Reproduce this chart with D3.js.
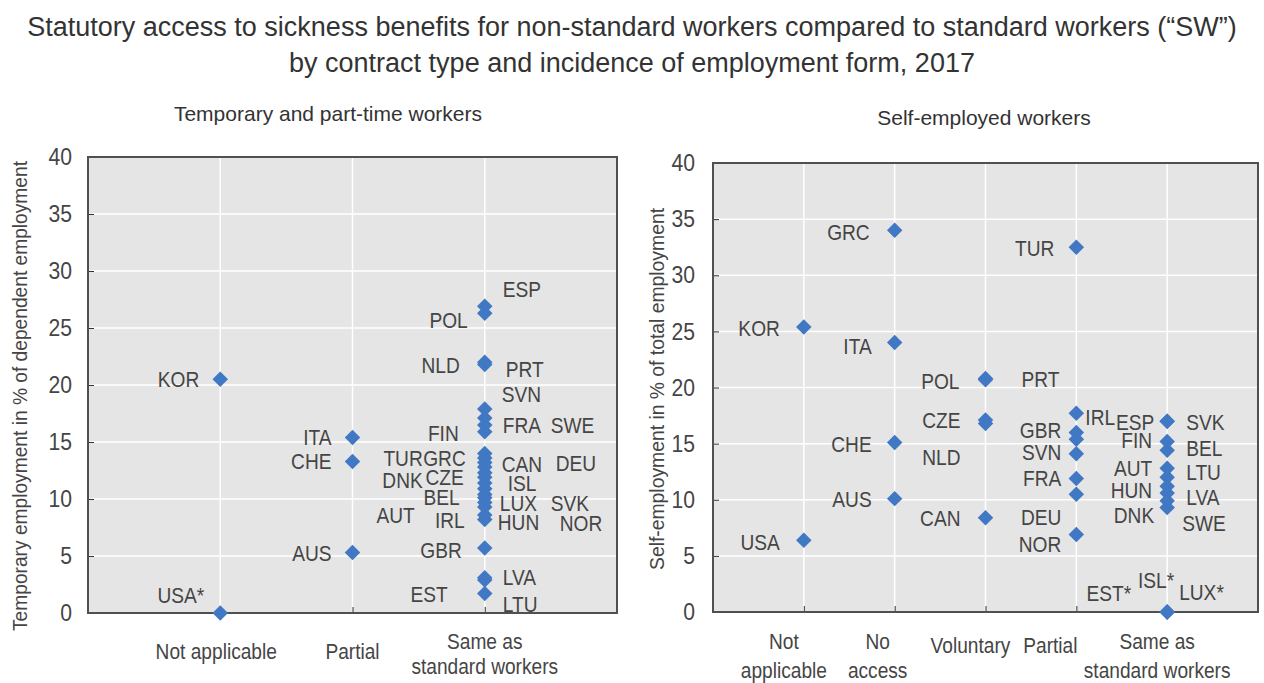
<!DOCTYPE html>
<html>
<head>
<meta charset="utf-8">
<script src="https://cdn.jsdelivr.net/npm/d3@7"></script>
<style>
  body { margin: 0; background: #ffffff; }
  svg { display: block; }
</style>
</head>
<body>
<svg id="chart" width="1264" height="683"></svg>
<script>
//------------------------------------------------------------------------------
// Data
//------------------------------------------------------------------------------

var yTicks = [0, 5, 10, 15, 20, 25, 30, 35, 40];

// Temporary and part-time workers
var tpCategories = ["Not applicable", "Partial", "Same as\nstandard workers"];
var tpCountries = ["KOR", "USA*", "ITA", "CHE", "AUS",
  "ESP", "POL", "NLD", "PRT", "SVN", "FRA", "SWE", "FIN", "TUR", "GRC", "CAN", "DEU",
  "DNK", "CZE", "ISL", "BEL", "LUX", "SVK", "AUT", "IRL", "HUN", "NOR", "GBR", "EST", "LVA", "LTU"];
var tpGroup = [0, 0, 1, 1, 1,
  2, 2, 2, 2, 2, 2, 2, 2, 2, 2, 2, 2,
  2, 2, 2, 2, 2, 2, 2, 2, 2, 2, 2, 2, 2, 2];
var tpValues = [20.5, 0, 15.4, 13.3, 5.3,
  26.9, 26.3, 22.0, 21.8, 17.9, 17.1, 16.5, 15.9, 14.0, 13.6, 13.2, 12.8,
  12.3, 11.9, 11.4, 10.9, 10.4, 10.1, 9.7, 9.3, 8.6, 8.2, 5.7, 3.1, 2.9, 1.7];

// Self-employed workers
var seCategories = ["Not\napplicable", "No\naccess", "Voluntary", "Partial", "Same as\nstandard workers"];
var seCountries = ["KOR", "USA", "GRC", "ITA", "CHE", "AUS",
  "POL", "PRT", "CZE", "NLD", "CAN",
  "TUR", "IRL", "GBR", "", "SVN", "FRA", "DEU", "NOR",
  "ESP", "SVK", "FIN", "BEL", "AUT", "LTU", "HUN", "LVA", "DNK", "SWE", "EST*", "ISL*", "LUX*"];
var seGroup = [0, 0, 1, 1, 1, 1,
  2, 2, 2, 2, 2,
  3, 3, 3, 3, 3, 3, 3, 3,
  4, 4, 4, 4, 4, 4, 4, 4, 4, 4, 4, 4, 4];
var seValues = [25.4, 6.4, 34.0, 24.0, 15.1, 10.1,
  20.8, 20.7, 17.1, 16.8, 8.4,
  32.5, 17.7, 16.0, 15.4, 14.1, 11.9, 10.5, 6.9,
  17.0, 17.0, 15.2, 14.4, 12.8, 12.0, 11.2, 10.6, 9.9, 9.3, 0, 0, 0];

//------------------------------------------------------------------------------
// Label placement (offset from the marker in px, text anchor)
//------------------------------------------------------------------------------

var tpLabelPos = {
  "KOR": [-21, 0, "end"], "USA*": [-16, -18, "end"], "ITA": [-21, 0, "end"],
  "CHE": [-21, 0, "end"], "AUS": [-21, 0, "end"],
  "ESP": [18, -17, "start"], "POL": [-17, 7, "end"], "NLD": [-25, 3, "end"],
  "PRT": [21, 5, "start"], "SVN": [17, -15, "start"], "FRA": [18, 7, "start"],
  "SWE": [66, 0, "start"], "FIN": [-26, 1, "end"], "TUR": [-62, 5, "end"],
  "GRC": [-19, 0, "end"], "CAN": [17, 1, "start"], "DEU": [71, -4, "start"],
  "DNK": [-62, 7, "end"], "CZE": [-21, 0, "end"], "ISL": [23, 0, "start"],
  "BEL": [-25, 8, "end"], "LUX": [15, 9, "start"], "SVK": [66, 5, "start"],
  "AUT": [-70, 13, "end"], "IRL": [-20, 13, "end"], "HUN": [13, 7, "start"],
  "NOR": [75, 3, "start"], "GBR": [-23, 2, "end"], "EST": [-37, 16, "end"],
  "LVA": [18, -3, "start"], "LTU": [18, 10, "start"]
};

var seLabelPos = {
  "KOR": [-24, 1, "end"], "USA": [-24, 2, "end"], "GRC": [-25, 2, "end"],
  "ITA": [-23, 3, "end"], "CHE": [-23, 1, "end"], "AUS": [-23, 0, "end"],
  "POL": [-26, 2, "end"], "PRT": [36, -1, "start"], "CZE": [-25, 0, "end"],
  "NLD": [-25, 34, "end"], "CAN": [-25, 0, "end"],
  "TUR": [-22, 1, "end"], "IRL": [9, 4, "start"], "GBR": [-15, -2, "end"],
  "SVN": [-15, -2, "end"], "FRA": [-15, 0, "end"], "DEU": [-15, 23, "end"],
  "NOR": [-15, 9, "end"],
  "ESP": [-13, 1, "end"], "SVK": [19, 1, "start"], "FIN": [-15, -1, "end"],
  "BEL": [19, -2, "start"], "AUT": [-15, 0, "end"], "LTU": [19, -5, "start"],
  "HUN": [-15, 4, "end"], "LVA": [19, 4, "start"], "DNK": [-13, 14, "end"],
  "SWE": [15, 15, "start"], "EST*": [-36, -19, "end"], "ISL*": [7, -32, "end"],
  "LUX*": [12, -20, "start"]
};

//------------------------------------------------------------------------------
// Styles
//------------------------------------------------------------------------------

var sans = "'Liberation Sans', Arial, sans-serif";
var textColor = "#454545";
var markerColor = "#4178c4";
var narrowScale = 0.87;   // no narrow face installed, squeeze glyphs instead

var svg = d3.select("#chart");

// place a text with a horizontal squeeze around its anchor point
function squeeze(sel, x, y, k) {
  sel.attr("transform", "translate(" + x + "," + y + ") scale(" + (k || narrowScale) + ",1)");
}

svg.append("text")
  .attr("x", 632).attr("y", 27)
  .attr("text-anchor", "middle").attr("dominant-baseline", "central")
  .attr("font-family", sans).attr("font-size", "27px").attr("fill", "#333")
  .text("Statutory access to sickness benefits for non-standard workers compared to standard workers (\u201cSW\u201d)");

svg.append("text")
  .attr("x", 632).attr("y", 63)
  .attr("text-anchor", "middle").attr("dominant-baseline", "central")
  .attr("font-family", sans).attr("font-size", "27px").attr("fill", "#333")
  .text("by contract type and incidence of employment form, 2017");

//------------------------------------------------------------------------------
// Panel
//------------------------------------------------------------------------------

function drawPanel(p) {
  var g = svg.append("g");

  var x = d3.scalePoint()
    .domain(d3.range(p.categories.length))
    .range([p.left, p.right])
    .padding(1);

  var y = d3.scaleLinear()
    .domain([0, 40])
    .range([p.bottom, p.top]);

  // plot background
  g.append("rect")
    .attr("x", p.left).attr("y", p.top)
    .attr("width", p.right - p.left).attr("height", p.bottom - p.top)
    .attr("fill", "#e5e5e5");

  // grid
  g.selectAll(".hgrid")
    .data(yTicks.slice(1, -1))
    .enter().append("line")
    .attr("x1", p.left).attr("x2", p.right)
    .attr("y1", function(d) { return y(d); })
    .attr("y2", function(d) { return y(d); })
    .attr("stroke", "#ffffff").attr("stroke-width", 1.5);

  g.selectAll(".vgrid")
    .data(x.domain())
    .enter().append("line")
    .attr("x1", function(d) { return x(d); })
    .attr("x2", function(d) { return x(d); })
    .attr("y1", p.top).attr("y2", p.bottom)
    .attr("stroke", "#ffffff").attr("stroke-width", 1.5);

  // axes with inward ticks
  var yAxis = g.append("g")
    .attr("transform", "translate(" + p.left + ",0)")
    .call(d3.axisLeft(y).tickValues(yTicks).tickSizeInner(-6).tickSizeOuter(0).tickPadding(p.tickPad));
  yAxis.select(".domain").remove();
  yAxis.selectAll("line").attr("stroke", "#333");
  yAxis.selectAll("text")
    .attr("font-family", sans).attr("font-size", "24px").attr("fill", textColor)
    .each(function() {
      var t = d3.select(this);
      squeeze(t, t.attr("x"), 0, 0.88);
      t.attr("x", 0);
    });

  var xAxis = g.append("g")
    .attr("transform", "translate(0," + p.bottom + ")")
    .call(d3.axisBottom(x).tickSizeInner(-6).tickSizeOuter(0).tickFormat(""));
  xAxis.select(".domain").remove();
  xAxis.selectAll("line").attr("stroke", "#333");

  // frame
  g.append("rect")
    .attr("x", p.left).attr("y", p.top)
    .attr("width", p.right - p.left).attr("height", p.bottom - p.top)
    .attr("fill", "none").attr("stroke", "#505050").attr("stroke-width", 2);

  // category labels
  p.categories.forEach(function(c, i) {
    var lines = c.split("\n");
    lines.forEach(function(line, j) {
      var t = g.append("text")
        .attr("text-anchor", "middle").attr("dominant-baseline", "central")
        .attr("font-family", sans).attr("font-size", "22px").attr("fill", textColor)
        .text(line);
      squeeze(t, x(i) + p.catShift[i], lines.length == 1 ? p.catY1 : p.catY2[j]);
    });
  });

  // markers
  var rows = p.values.map(function(v, i) {
    return { name: p.countries[i], group: p.groups[i], value: v };
  });

  g.selectAll(".pt")
    .data(rows)
    .enter().append("path")
    .attr("d", d3.symbol(d3.symbolSquare, 120))
    .attr("transform", function(d) { return "translate(" + x(d.group) + "," + y(d.value) + ") rotate(45)"; })
    .attr("fill", markerColor);

  // country labels
  g.selectAll(".lbl")
    .data(rows.filter(function(d) { return d.name !== ""; }))
    .enter().append("text")
    .attr("text-anchor", function(d) { return p.labelPos[d.name][2]; })
    .attr("dominant-baseline", "central")
    .attr("font-family", sans).attr("font-size", "22px").attr("fill", textColor)
    .text(function(d) { return d.name; })
    .each(function(d) {
      var pos = p.labelPos[d.name];
      squeeze(d3.select(this), x(d.group) + pos[0], y(d.value) + pos[1]);
    });

  // panel title
  g.append("text")
    .attr("x", p.titleX).attr("y", p.titleY)
    .attr("text-anchor", "middle").attr("dominant-baseline", "central")
    .attr("font-family", sans).attr("font-size", "21px").attr("fill", "#333")
    .text(p.title);

  // y axis title
  g.append("text")
    .attr("transform", "translate(" + p.yTitleX + "," + p.yTitleY + ") rotate(-90)")
    .attr("text-anchor", "middle").attr("dominant-baseline", "central")
    .attr("font-family", sans).attr("font-size", "20px").attr("fill", textColor)
    .attr("textLength", p.yTitleLen).attr("lengthAdjust", "spacingAndGlyphs")
    .text(p.yTitle);
}

drawPanel({
  left: 88, right: 617, top: 157, bottom: 613,
  categories: tpCategories, countries: tpCountries, groups: tpGroup, values: tpValues,
  labelPos: tpLabelPos,
  tickPad: 16,
  catShift: [-4, 0, 0], catY1: 651, catY2: [641, 666],
  title: "Temporary  and part-time workers", titleX: 328, titleY: 113,
  yTitle: "Temporary employment in % of dependent employment",
  yTitleX: 20, yTitleY: 396, yTitleLen: 470
});

drawPanel({
  left: 713, right: 1258, top: 163, bottom: 612,
  categories: seCategories, countries: seCountries, groups: seGroup, values: seValues,
  labelPos: seLabelPos,
  tickPad: 18,
  catShift: [-20, -17, -15, -26, -10], catY1: 645, catY2: [641, 670],
  title: "Self-employed workers", titleX: 984, titleY: 117,
  yTitle: "Self-employment in % of total employment",
  yTitleX: 657, yTitleY: 389, yTitleLen: 362
});
</script>
</body>
</html>
